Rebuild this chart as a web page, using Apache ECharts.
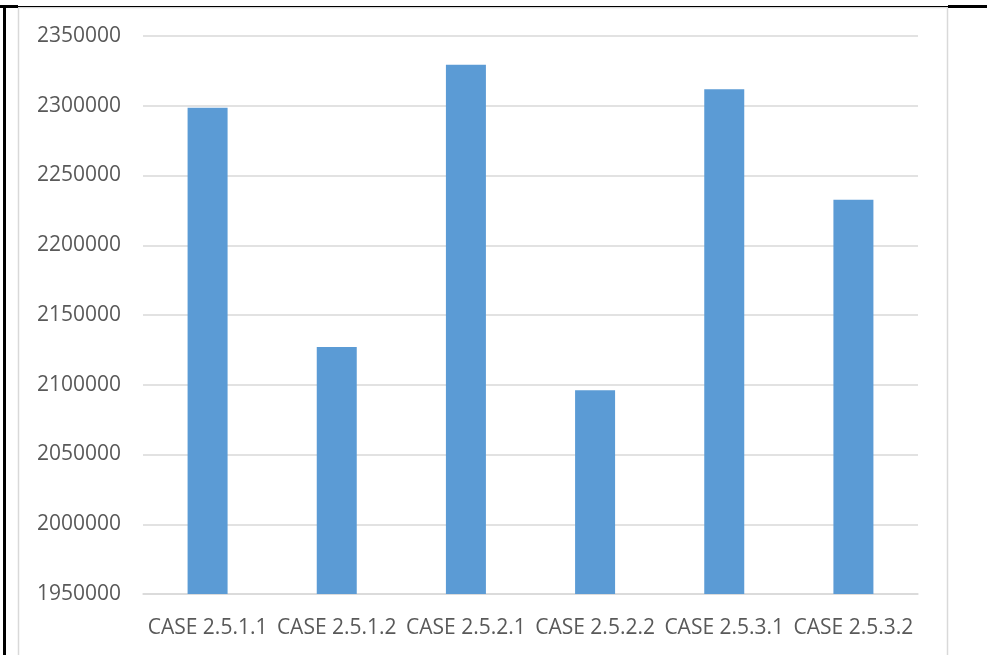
<!DOCTYPE html>
<html><head><meta charset="utf-8">
<script src="https://cdn.jsdelivr.net/npm/echarts@6/dist/echarts.min.js"></script>
<style>html,body{margin:0;padding:0;background:#fff}#c{width:987px;height:655px}</style>
</head><body><div id="c"></div>
<script>
var categories = ['CASE 2.5.1.1','CASE 2.5.1.2','CASE 2.5.2.1','CASE 2.5.2.2','CASE 2.5.3.1','CASE 2.5.3.2'];
var values = [2298600, 2127000, 2329400, 2096000, 2311800, 2232600];
var yMin = 1950000, yMax = 2350000, yStep = 50000;

var chart = echarts.init(document.getElementById('c'), null, {renderer:'canvas'});
chart.setOption({
  animation:false,
  backgroundColor:'#fff',
  textStyle:{fontFamily:'Open Sans'},
  grid:{left:143, right:69, top:36, bottom:61},
  xAxis:{type:'category', data:categories,
    axisLine:{show:true, lineStyle:{color:'#d9d9d9', width:1.5}},
    axisTick:{show:false},
    axisLabel:{color:'#595959', fontSize:21, margin:24, fontFamily:'Open Sans', interval:0}},
  yAxis:{type:'value', min:yMin, max:yMax, interval:yStep,
    axisLine:{show:false}, axisTick:{show:false},
    splitLine:{lineStyle:{color:'#d9d9d9', width:1.5}},
    axisLabel:{color:'#595959', fontSize:21, margin:22, fontFamily:'Open Sans',
      formatter:function(v){return String(v);}}},
  series:[{type:'bar', data:values, barWidth:40, itemStyle:{color:'#5b9bd5'}}],
  graphic:[
    {type:'rect', shape:{x:18.5,y:7.5,width:929,height:660}, style:{fill:null, stroke:'#d9d9d9', lineWidth:1.5}, silent:true},
    {type:'rect', shape:{x:3,y:5,width:3,height:650}, style:{fill:'#000'}, silent:true},
    {type:'rect', shape:{x:0,y:6,width:987,height:1}, style:{fill:'#000'}, silent:true},
    {type:'rect', shape:{x:0,y:5,width:18,height:3}, style:{fill:'#000'}, silent:true},
    {type:'rect', shape:{x:948,y:5,width:39,height:3}, style:{fill:'#000'}, silent:true}
  ]
});
</script></body></html>
